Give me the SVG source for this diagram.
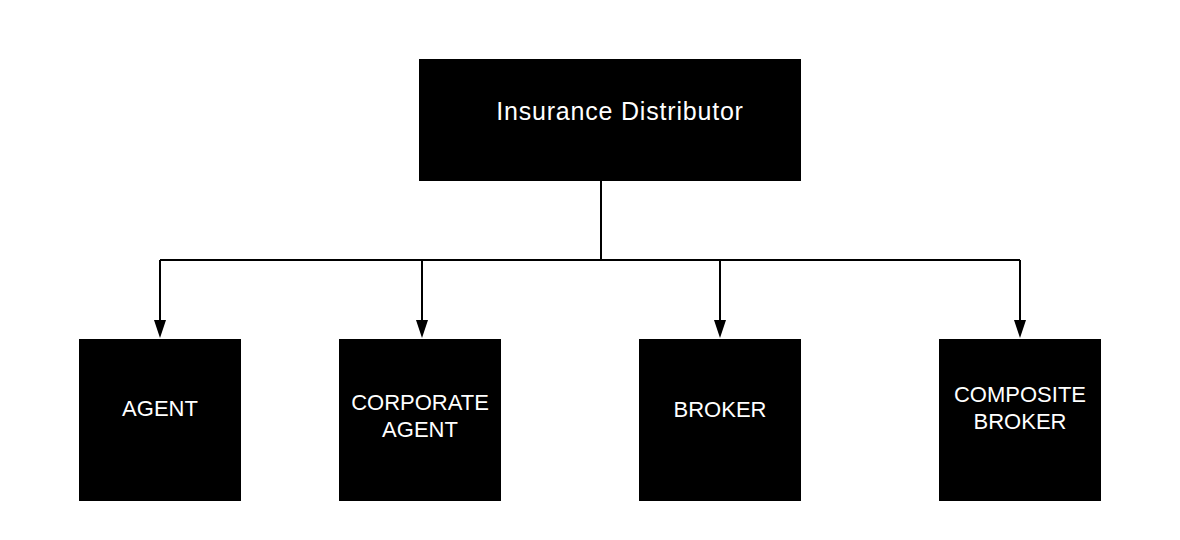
<svg xmlns="http://www.w3.org/2000/svg" width="1180" height="540" viewBox="0 0 1180 540">
<defs>
<style>
.box{fill:#000;stroke:none}
.lbl{fill:#fff;font-family:"Liberation Sans",Arial,sans-serif;font-size:22px;text-anchor:middle}
.title{fill:#fff;font-family:"Liberation Sans",Arial,sans-serif;font-size:25px;letter-spacing:0.8px;text-anchor:middle}
.conn{fill:none;stroke:#000;stroke-width:2}
.head{fill:#000;stroke:none}
</style>
</defs>
<rect width="1180" height="540" fill="#fff"/>
<g id="connectors">
<path class="conn" d="M601,181 V260"/>
<path class="conn" d="M160,260 H1020"/>
<path class="conn" d="M160,260 V320"/>
<path class="conn" d="M422,260 V320"/>
<path class="conn" d="M720,260 V320"/>
<path class="conn" d="M1020,260 V320"/>
<path class="head" d="M154,320 L166,320 L160,338 Z"/>
<path class="head" d="M416,320 L428,320 L422,338 Z"/>
<path class="head" d="M714,320 L726,320 L720,338 Z"/>
<path class="head" d="M1014,320 L1026,320 L1020,338 Z"/>
</g>
<g id="node-distributor">
<rect class="box" x="419" y="59" width="382" height="122"/>
<text class="title" x="620" y="120">Insurance Distributor</text>
</g>
<g id="node-agent">
<rect class="box" x="79" y="339" width="162" height="162"/>
<text class="lbl" x="160" y="416">AGENT</text>
</g>
<g id="node-corporate-agent">
<rect class="box" x="339" y="339" width="162" height="162"/>
<text class="lbl" x="420" y="410">CORPORATE</text>
<text class="lbl" x="420" y="437">AGENT</text>
</g>
<g id="node-broker">
<rect class="box" x="639" y="339" width="162" height="162"/>
<text class="lbl" x="720" y="417">BROKER</text>
</g>
<g id="node-composite-broker">
<rect class="box" x="939" y="339" width="162" height="162"/>
<text class="lbl" x="1020" y="402">COMPOSITE</text>
<text class="lbl" x="1020" y="429">BROKER</text>
</g>
</svg>
